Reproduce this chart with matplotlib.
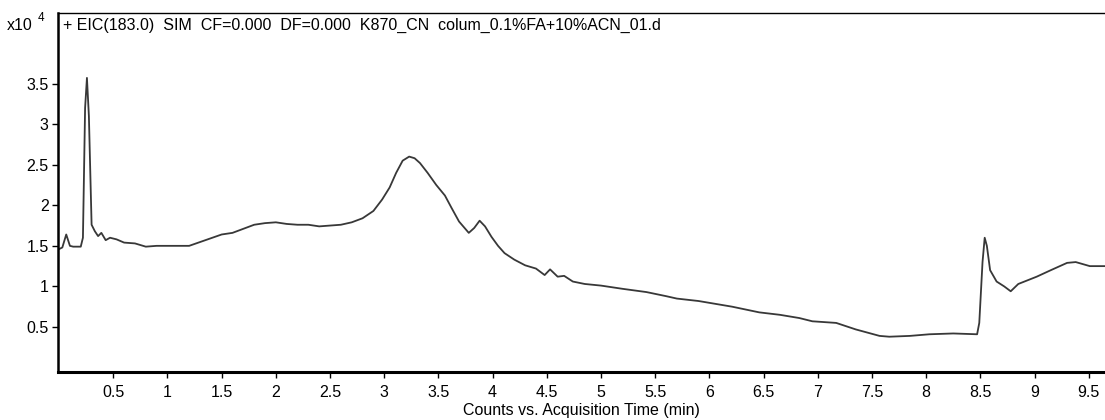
import matplotlib
matplotlib.use('Agg')
import matplotlib.pyplot as plt

plt.rcParams['font.family'] = ['Liberation Sans', 'DejaVu Sans']

# EIC(183.0) trace, counts in units of 1e4
time_min = [0.0, 0.03, 0.066, 0.10, 0.13, 0.20, 0.22, 0.24, 0.257, 0.275, 0.30, 0.33,
            0.36, 0.39, 0.43, 0.47, 0.53, 0.6, 0.7, 0.8, 0.9, 1.0, 1.2, 1.35, 1.5, 1.6,
            1.7, 1.8, 1.9, 2.0, 2.1, 2.2, 2.3, 2.4, 2.5, 2.6, 2.7, 2.8, 2.9, 2.98, 3.05,
            3.11, 3.17, 3.23, 3.28, 3.33, 3.4, 3.48, 3.56, 3.62, 3.69, 3.78, 3.83, 3.88,
            3.93, 3.99, 4.05, 4.11, 4.2, 4.3, 4.4, 4.48, 4.53, 4.6, 4.66, 4.74, 4.85,
            5.0, 5.2, 5.42, 5.6, 5.7, 5.9, 6.21, 6.46, 6.65, 6.83, 6.95, 7.17, 7.35,
            7.57, 7.66, 7.85, 8.03, 8.25, 8.47, 8.49, 8.52, 8.54, 8.56, 8.59, 8.65,
            8.72, 8.78, 8.85, 9.02, 9.15, 9.30, 9.38, 9.51, 9.65]
counts = [1.46, 1.48, 1.64, 1.50, 1.49, 1.49, 1.60, 3.2, 3.57, 3.1, 1.76, 1.68,
          1.62, 1.66, 1.57, 1.60, 1.58, 1.54, 1.53, 1.49, 1.50, 1.50, 1.50, 1.57, 1.64, 1.66,
          1.71, 1.76, 1.78, 1.79, 1.77, 1.76, 1.76, 1.74, 1.75, 1.76, 1.79, 1.84, 1.93, 2.07, 2.22,
          2.40, 2.55, 2.60, 2.58, 2.52, 2.40, 2.25, 2.12, 1.97, 1.80, 1.66, 1.72, 1.81,
          1.74, 1.61, 1.50, 1.41, 1.33, 1.26, 1.22, 1.14, 1.21, 1.12, 1.13, 1.06, 1.03,
          1.01, 0.97, 0.93, 0.88, 0.85, 0.82, 0.75, 0.68, 0.65, 0.61, 0.57, 0.55, 0.47,
          0.39, 0.38, 0.39, 0.41, 0.42, 0.41, 0.55, 1.3, 1.60, 1.50, 1.20, 1.06,
          1.00, 0.94, 1.03, 1.12, 1.20, 1.29, 1.30, 1.25, 1.25]

x_ticks = [0.5, 1, 1.5, 2, 2.5, 3, 3.5, 4, 4.5, 5, 5.5, 6, 6.5, 7, 7.5, 8, 8.5, 9, 9.5]
y_ticks = [0.5, 1, 1.5, 2, 2.5, 3, 3.5]

title = '+ EIC(183.0)  SIM  CF=0.000  DF=0.000  K870_CN  colum_0.1%FA+10%ACN_01.d'
fs = 11.5

fig = plt.figure(figsize=(11.05, 4.2), dpi=100)
ax = fig.add_axes([58 / 1105, 48 / 420, 1 - 58 / 1105, (372 - 13) / 420])

ax.plot(time_min, counts, '-', color='#383838', linewidth=1.3)

ax.set_xlim(-0.01, 9.65)
ax.set_ylim(-0.055, 4.37)
ax.set_xticks(x_ticks)
ax.set_xticklabels(['%g' % v for v in x_ticks])
ax.set_yticks(y_ticks)
ax.set_yticklabels(['%g' % v for v in y_ticks])
ax.tick_params(direction='out', length=4.3, width=1, labelsize=fs, colors='black')
ax.tick_params(axis='y', pad=2.5)
ax.tick_params(axis='x', pad=5)

ax.spines['right'].set_visible(False)
ax.spines['left'].set_linewidth(1.8)
ax.spines['bottom'].set_linewidth(2.2)
ax.spines['top'].set_linewidth(1.0)

ax.set_xlabel('Counts vs. Acquisition Time (min)', fontsize=fs, labelpad=2.5)

fig.text(63 / 1105, 1 - 25 / 420, title, fontsize=fs, va='center', ha='left')
fig.text(7 / 1105, 1 - 25 / 420, 'x10', fontsize=fs, va='center', ha='left')
fig.text(38 / 1105, 1 - 18 / 420, '4', fontsize=8.5, va='center', ha='left')

fig.savefig('out.png', dpi=100)
